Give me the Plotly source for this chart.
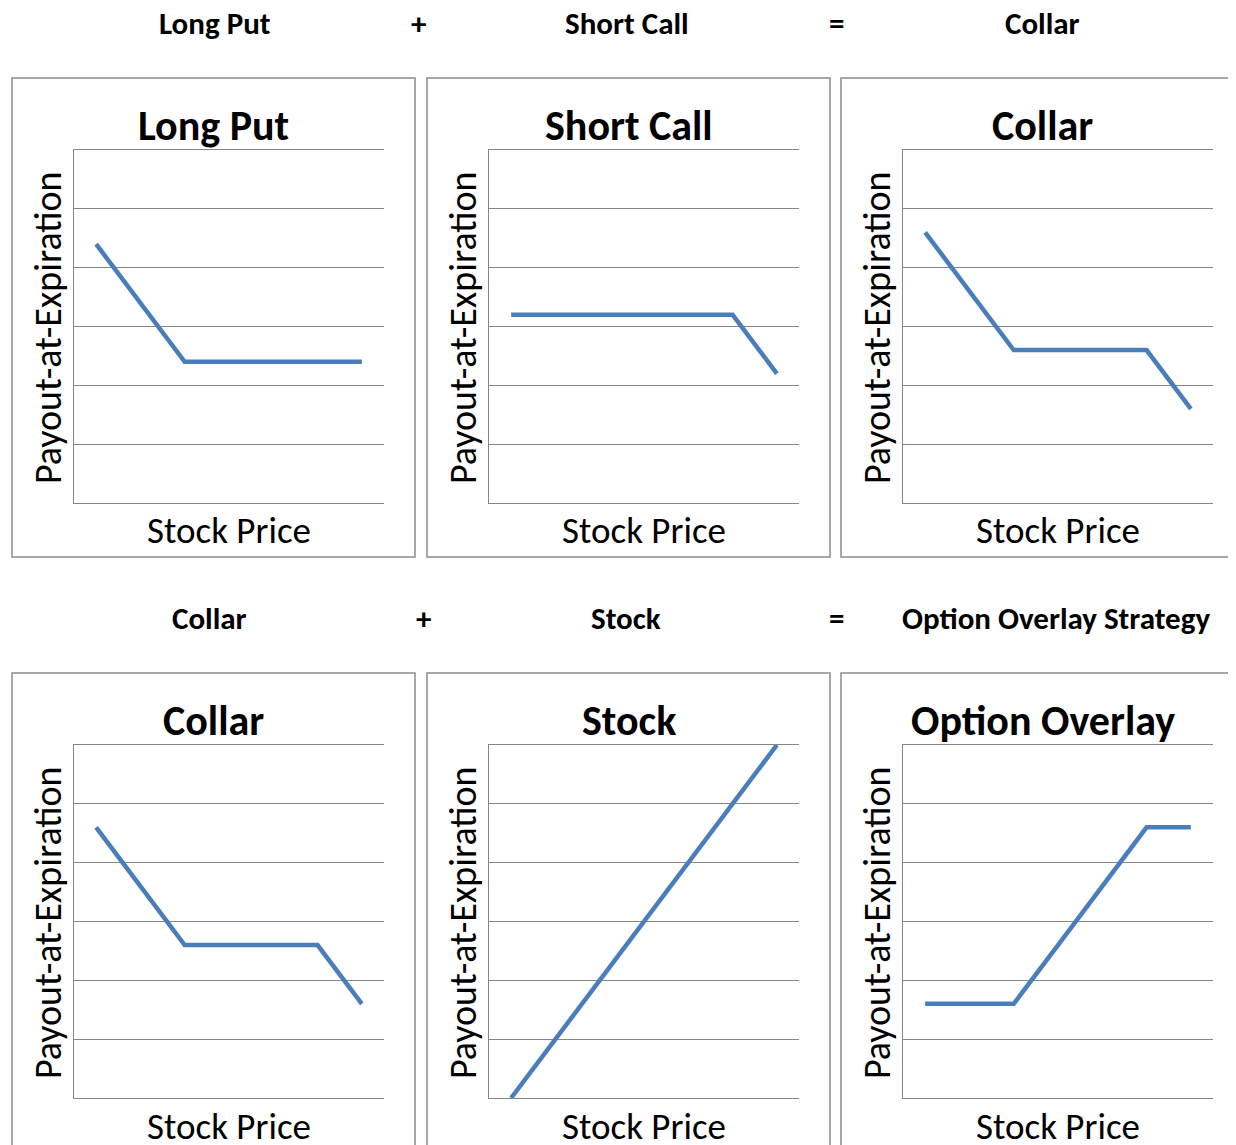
import plotly.graph_objects as go

W, H = 1244, 1145
OFF = 8  # page body margin of the html page

# ---- data ----
categories = [0, 1, 2, 3, 4, 5, 6]
long_put = [4.4, 3.4, 2.4, 2.4, 2.4, 2.4, 2.4]
short_call = [3.2, 3.2, 3.2, 3.2, 3.2, 3.2, 2.2]
collar = [4.6, 3.6, 2.6, 2.6, 2.6, 2.6, 1.6]
stock = [0, 1, 2, 3, 4, 5, 6]
option_overlay = [1.6, 1.6, 1.6, 2.6, 3.6, 4.6, 4.6]

panel_titles = ["Long Put", "Short Call", "Collar", "Collar", "Stock", "Option Overlay"]
panel_series = [long_put, short_call, collar, collar, stock, option_overlay]
header_row1 = ["Long Put", "+", "Short Call", "=", "Collar"]
header_row2 = ["Collar", "+", "Stock", "=", "Option Overlay Strategy"]
x_title = "Stock Price"
y_title = "Payout-at-Expiration"

FONT = "Carlito, Calibri, Lato, sans-serif"
LINE_COLOR = "#4A7EBB"
GRID = "#868686"
BOX = "#8c8c8c"

def px(x):
    return (x - OFF) / W

def py(y):
    return 1 - (y - OFF) / H

fig = go.Figure()

box_left = [12, 427, 841]
box_w = 403
box_top = [78, 673]
box_h = 479
plot_off_l = 62   # plot left relative to box left
plot_w = 310
plot_off_t = 72
plot_h = 353

shapes = []
annotations = []
for r in range(2):
    for c in range(3):
        i = r * 3 + c
        bl = box_left[c]
        bt = box_top[r]
        shapes.append(dict(type="rect", xref="paper", yref="paper",
                           x0=px(bl), x1=px(bl + box_w), y0=py(bt + box_h), y1=py(bt),
                           line=dict(color=BOX, width=1.5), fillcolor="rgba(0,0,0,0)",
                           layer="below"))
        l = bl + plot_off_l
        t = bt + plot_off_t
        ax = "" if i == 0 else str(i + 1)
        fig.add_trace(go.Scatter(x=categories, y=panel_series[i], mode="lines",
                                 line=dict(color=LINE_COLOR, width=4.5),
                                 xaxis="x" + ax, yaxis="y" + ax, showlegend=False,
                                 hoverinfo="skip"))
        fig.layout["xaxis" + ax] = dict(domain=[px(l), px(l + plot_w)], range=[-0.5, 6.5],
                                        anchor="y" + ax, showgrid=False, showticklabels=False,
                                        ticks="", zeroline=False, showline=True, mirror=True,
                                        linecolor=GRID, linewidth=1.3, fixedrange=True)
        fig.layout["yaxis" + ax] = dict(domain=[py(t + plot_h), py(t)], range=[0, 6],
                                        anchor="x" + ax, dtick=1, tick0=0, showgrid=True,
                                        gridcolor=GRID, gridwidth=1.3, showticklabels=False,
                                        ticks="", zeroline=False, showline=True,
                                        linecolor=GRID, linewidth=1.3, fixedrange=True)
        # panel title
        annotations.append(dict(text="<b>" + panel_titles[i] + "</b>", xref="paper", yref="paper",
                                x=px(bl + box_w / 2), y=py(bt + 47), xanchor="center",
                                yanchor="middle", showarrow=False,
                                font=dict(family=FONT, size=42, color="#000000")))
        # x title
        annotations.append(dict(text=x_title, xref="paper", yref="paper",
                                x=px(l + plot_w / 2), y=py(bt + 453), xanchor="center",
                                yanchor="middle", showarrow=False,
                                font=dict(family=FONT, size=37, color="#000000")))
        # y title
        annotations.append(dict(text=y_title, xref="paper", yref="paper",
                                x=px(bl + 36), y=py(bt + 250), xanchor="center",
                                yanchor="middle", showarrow=False, textangle=-90,
                                font=dict(family=FONT, size=38, color="#000000")))

hdr_x = [215, 418, 627, 836, 1042]
hdr_x2 = [210, 423, 626, 836, 1056]
for j, txt in enumerate(header_row1):
    annotations.append(dict(text="<b>" + txt + "</b>", xref="paper", yref="paper",
                            x=px(hdr_x[j]), y=py(23), xanchor="center", yanchor="middle",
                            showarrow=False, font=dict(family=FONT, size=31, color="#000000")))
for j, txt in enumerate(header_row2):
    annotations.append(dict(text="<b>" + txt + "</b>", xref="paper", yref="paper",
                            x=px(hdr_x2[j]), y=py(618), xanchor="center", yanchor="middle",
                            showarrow=False, font=dict(family=FONT, size=31, color="#000000")))

fig.update_layout(width=W, height=H, margin=dict(l=0, r=0, t=0, b=0),
                  paper_bgcolor="white", plot_bgcolor="white",
                  shapes=shapes, annotations=annotations, showlegend=False)

fig.write_html("out.html", config={"displayModeBar": False})
